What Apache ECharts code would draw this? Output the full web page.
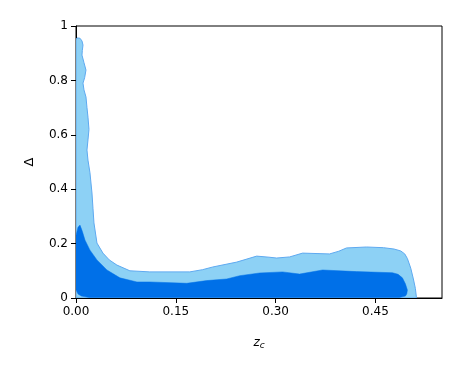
<!DOCTYPE html>
<html lang="en">
<head>
    <meta charset="UTF-8">
    <script src="https://cdn.jsdelivr.net/npm/echarts@6/dist/echarts.min.js"></script>
    <title>contour</title>
    <style>
        body { margin: 0; background: #fff; }
        #main { width: 463px; height: 369px; }
    </style>
</head>
<body>
<div id="main"></div>
<script>
    // outer (light) contour
    let outerX = [0, 0.0015, 0.006, 0.009, 0.0105, 0.0095, 0.009, 0.012, 0.015, 0.013, 0.0105, 0.012, 0.015, 0.0165, 0.018, 0.0195, 0.018, 0.0165, 0.018, 0.021, 0.024, 0.0255, 0.027, 0.0315, 0.0405, 0.05, 0.0615, 0.081, 0.111, 0.171, 0.19, 0.2055, 0.2415, 0.2715, 0.29, 0.3015, 0.321, 0.3405, 0.381, 0.395, 0.4065, 0.4365, 0.462, 0.478, 0.488, 0.494, 0.498, 0.503, 0.507, 0.51, 0.5115, 0.5115, 0];
    let outerY = [0.95, 0.956, 0.955, 0.945, 0.93, 0.91, 0.893, 0.865, 0.838, 0.81, 0.79, 0.765, 0.739, 0.7, 0.665, 0.62, 0.581, 0.544, 0.507, 0.46, 0.386, 0.33, 0.276, 0.202, 0.165, 0.14, 0.121, 0.1, 0.096, 0.096, 0.104, 0.114, 0.132, 0.154, 0.15, 0.147, 0.151, 0.165, 0.162, 0.172, 0.184, 0.1875, 0.185, 0.18, 0.173, 0.162, 0.145, 0.11, 0.07, 0.035, 0.004, 0, 0];
    // inner (dark) contour
    let innerX = [0, 0.003, 0.006, 0.0095, 0.0135, 0.021, 0.0315, 0.0465, 0.066, 0.0915, 0.111, 0.1665, 0.1965, 0.2265, 0.246, 0.276, 0.3105, 0.336, 0.3705, 0.4215, 0.4755, 0.484, 0.4905, 0.495, 0.498, 0.497, 0.495, 0.486, 0.02, 0.008, 0.003, 0];
    let innerY = [0.23, 0.26, 0.268, 0.245, 0.213, 0.176, 0.14, 0.103, 0.074, 0.059, 0.059, 0.054, 0.064, 0.07, 0.082, 0.092, 0.096, 0.088, 0.103, 0.097, 0.093, 0.087, 0.074, 0.052, 0.029, 0.015, 0.007, 0.002, 0.002, 0.007, 0.015, 0.03];
    let xTicks = [0, 0.15, 0.30, 0.45];

    let shapes = [
        { xs: outerX, ys: outerY, fill: '#8dd1f5', stroke: '#5ea9f0', lw: 1 },
        { xs: innerX, ys: innerY, fill: '#0070e8', stroke: '#0070e8', lw: 0.5 }
    ];

    let myChart = echarts.init(document.getElementById('main'));
    let option = {
        animation: false,
        textStyle: { fontFamily: 'DejaVu Sans' },
        grid: {
            left: 76, top: 26, right: 21, bottom: 71,
            show: true, borderColor: '#000', borderWidth: 1
        },
        xAxis: {
            type: 'value', min: 0, max: 0.55,
            name: '{i|z}{s|c}', nameLocation: 'middle', nameGap: 37,
            nameTextStyle: {
                rich: {
                    i: { fontFamily: 'DejaVu Sans', fontStyle: 'italic', fontSize: 12, color: '#000' },
                    s: { fontFamily: 'DejaVu Sans', fontStyle: 'italic', fontSize: 9, color: '#000', verticalAlign: 'bottom', padding: [6, 0, 0, 0] }
                }
            },
            splitLine: { show: false },
            axisLine: { show: true, lineStyle: { color: '#000', width: 1 } },
            axisTick: { show: true, inside: false, length: 5, customValues: xTicks, lineStyle: { color: '#000' } },
            axisLabel: {
                customValues: xTicks, color: '#000', fontSize: 12, margin: 8,
                formatter: v => v.toFixed(2)
            }
        },
        yAxis: {
            type: 'value', min: 0, max: 1, interval: 0.2,
            name: 'Δ', nameLocation: 'middle', nameGap: 40, nameRotate: 90,
            nameTextStyle: { color: '#000', fontSize: 13 },
            splitLine: { show: false },
            axisLine: { show: true, lineStyle: { color: '#000', width: 1 } },
            axisTick: { show: true, inside: false, length: 5, lineStyle: { color: '#000' } },
            axisLabel: { color: '#000', fontSize: 12, margin: 8 }
        },
        series: [{
            type: 'custom',
            clip: true,
            data: shapes.map((s, i) => [i]),
            renderItem: function (params, api) {
                let s = shapes[params.dataIndex];
                let pts = s.xs.map((x, k) => api.coord([x, s.ys[k]]));
                return {
                    type: 'polygon',
                    shape: { points: pts },
                    style: { fill: s.fill, stroke: s.stroke, lineWidth: s.lw }
                };
            }
        }]
    };
    myChart.setOption(option);
</script>
</body>
</html>
